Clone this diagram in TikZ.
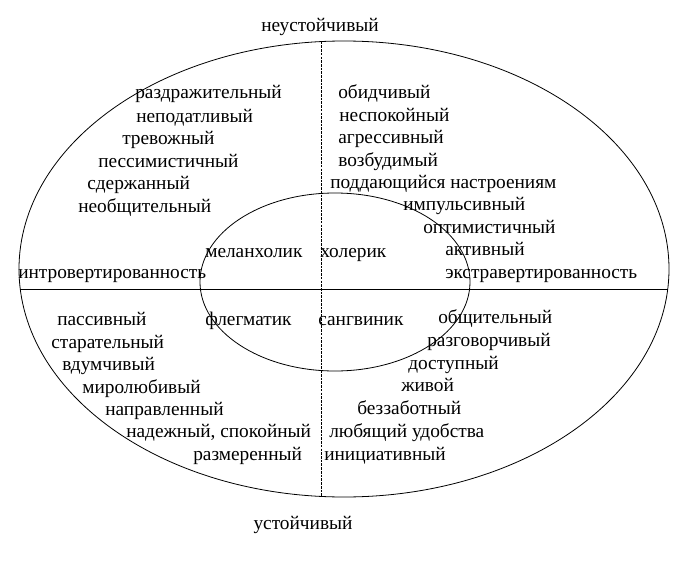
\documentclass[tikz,border=0pt]{standalone}
\usepackage{fontspec}
\setmainfont{Liberation Serif}
\usepackage{tikz}

\tikzset{word/.style={anchor=base west, inner sep=0pt, font=\fontsize{14.5}{16}\selectfont},
         pole/.style={anchor=base, inner sep=0pt, font=\fontsize{14.5}{16}\selectfont}}

\begin{document}
\begin{tikzpicture}[x=0.75pt,y=-0.75pt]

    \useasboundingbox (0,0) rectangle (683,575);

    % outer and inner ovals
    \draw[line width=0.6pt] (344,269) ellipse [x radius=243.75pt, y radius=171pt];
    \draw[line width=0.6pt] (335,282) ellipse [x radius=101.25pt, y radius=66.75pt];

    % axes
    \draw[line width=0.6pt] (20.3,289) -- (667.7,289);
    \draw[line width=0.4pt, dash pattern=on 2pt off 0.8pt] (321,41.6) -- (321,496.4);

    \node[pole] (unstable) at (320,31) {неустойчивый};
    \node[pole] (stable) at (303,529) {устойчивый};

    % upper left
    \foreach \x/\y/\w [count=\i] in {135/93/раздражительный, 136/117/неподатливый,
        122/139/тревожный, 98/162/пессимистичный, 87/184/сдержанный,
        78/207/необщительный, 205/252/меланхолик, 18/273/интровертированность}
        \node[word] (ul\i) at (\x,\y+5) {\w};

    % upper right
    \foreach \x/\y/\w [count=\i] in {338/93/обидчивый, 339/116/неспокойный,
        338/138/агрессивный, 338/161/возбудимый, 330/183/поддающийся настроениям,
        403/205/импульсивный, 423/228/оптимистичный, 445/250/активный,
        320/252/холерик, 445/273/экстравертированность}
        \node[word] (ur\i) at (\x,\y+5) {\w};

    % lower left
    \foreach \x/\y/\w [count=\i] in {57/320/пассивный, 51/343/старательный,
        62/365/вдумчивый, 82/388/миролюбивый, 105/410/направленный,
        126/432/{надежный, спокойный}, 193/455/размеренный, 205/320/флегматик}
        \node[word] (ll\i) at (\x,\y+5) {\w};

    % lower right
    \foreach \x/\y/\w [count=\i] in {318/320/сангвиник, 438/318/общительный,
        427/341/разговорчивый, 408/364/доступный, 401/386/живой,
        357/409/беззаботный, 329/432/любящий удобства, 324/455/инициативный}
        \node[word] (lr\i) at (\x,\y+5) {\w};

\end{tikzpicture}
\end{document}
